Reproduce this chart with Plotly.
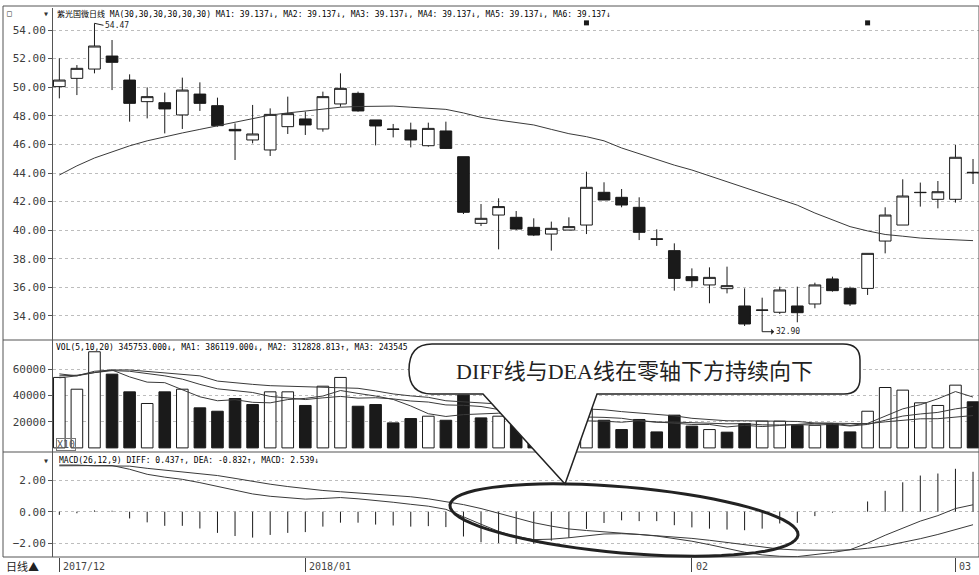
import math
import plotly.graph_objects as go

W, H = 979, 575


def fx(x):
    return x / W


def fy(y):
    return 1 - y / H


# ---------------- data ----------------
x_tick_idx = [0, 14, 36, 51]
x_tick_labels = ["2017/12", "2018/01", "02", "03"]

opens = [50.04, 50.62, 51.27, 52.18, 50.50, 48.99, 48.92, 48.06, 49.52, 48.71,
         47.05, 46.31, 45.61, 47.24, 47.78, 47.08, 48.83, 49.57, 47.71, 47.08,
         47.01, 45.91, 46.94, 45.14, 40.48, 41.06, 40.90, 40.20, 39.73, 40.01,
         40.36, 42.65, 42.30, 41.60, 39.40, 38.57, 36.75, 36.17, 35.91, 34.70,
         34.42, 34.26, 34.70, 34.84, 36.59, 35.93, 35.93, 39.24, 40.36, 42.65,
         42.16, 42.16, 44.05]
highs = [52.02, 51.55, 54.47, 53.30, 50.90, 49.99, 49.62, 50.67, 50.34, 49.27,
         47.47, 48.76, 48.52, 49.34, 48.29, 49.69, 50.97, 49.69, 47.71, 47.43,
         47.52, 47.52, 47.59, 45.14, 41.83, 42.23, 41.34, 40.83, 40.60, 40.90,
         44.09, 43.35, 42.88, 42.30, 40.06, 39.08, 37.33, 37.40, 37.45, 35.93,
         35.28, 36.05, 36.05, 36.33, 36.75, 36.05, 38.38, 41.60, 43.56, 43.33,
         43.44, 45.96, 44.98]
lows = [49.22, 49.45, 50.97, 49.80, 47.59, 47.82, 46.77, 47.08, 48.34, 47.24,
        44.91, 46.07, 45.19, 46.73, 46.66, 46.89, 48.64, 48.29, 45.93, 46.49,
        45.79, 45.84, 45.68, 41.13, 40.29, 38.66, 40.01, 39.59, 38.57, 40.01,
        39.73, 42.11, 41.60, 39.31, 38.90, 35.77, 36.00, 34.89, 35.58, 33.30,
        32.90, 34.14, 33.56, 34.54, 35.70, 34.70, 35.47, 38.38, 40.36, 41.65,
        41.53, 41.93, 43.23]
closes = [50.50, 51.32, 52.88, 51.74, 48.87, 49.34, 48.48, 49.80, 48.87, 47.31,
          46.95, 46.73, 48.10, 48.15, 47.36, 49.34, 49.92, 48.34, 47.29, 47.05,
          46.31, 47.12, 45.72, 41.25, 40.83, 41.65, 40.08, 39.66, 40.13, 40.25,
          43.00, 42.11, 41.76, 39.85, 39.36, 36.63, 36.47, 36.70, 36.12, 33.44,
          34.40, 35.82, 34.23, 36.17, 35.77, 34.84, 38.38, 41.06, 42.39, 42.63,
          42.69, 45.10, 44.02]
ma30 = [43.86, 44.50, 45.05, 45.50, 45.90, 46.25, 46.55, 46.80, 47.05, 47.29,
        47.55, 47.80, 48.05, 48.20, 48.35, 48.50, 48.60, 48.65, 48.69, 48.68,
        48.60, 48.55, 48.45, 48.20, 47.89, 47.70, 47.55, 47.36, 47.05, 46.75,
        46.54, 46.25, 45.75, 45.35, 44.95, 44.55, 44.21, 43.80, 43.40, 43.00,
        42.55, 42.15, 41.75, 41.20, 40.75, 40.25, 39.95, 39.70, 39.58, 39.45,
        39.38, 39.32, 39.27]
event_idx = [30, 46]
event_price = [54.5, 54.5]

volume = [53800, 44800, 73400, 56300, 42800, 33900, 42800, 44800, 30600, 28000,
          37700, 33100, 42800, 42800, 32400, 47100, 53800, 31800, 33100, 19100,
          22400, 24200, 21100, 40300, 22900, 24200, 22000, 18000, 16000, 17000,
          30000, 21100, 14000, 21700, 12200, 25000, 16600, 14000, 12000, 18600,
          20400, 20400, 17300, 17300, 18600, 12200, 28000, 46100, 44100, 34400,
          32400, 47900, 35200]
vol_ma5 = [56500, 55000, 58500, 59500, 54200, 50200, 49800, 44100, 39000, 36000,
           36800, 34800, 34400, 36900, 37800, 39600, 43800, 41600, 39600, 37000,
           32000, 26100, 24000, 25400, 26200, 26500, 26100, 25500, 20600, 19400,
           20600, 20400, 19600, 20800, 19800, 18800, 17900, 17900, 16000, 17200,
           16300, 17100, 17700, 18800, 18800, 17200, 18700, 24400, 29800, 33000,
           37500, 43000, 38800]
vol_ma10 = [55000, 55500, 57500, 59000, 58500, 57000, 55000, 52500, 48500, 45100,
            43500, 42300, 39300, 37900, 36900, 38200, 39300, 38000, 38300, 37400,
            35800, 35000, 32800, 32500, 31600, 29300, 26100, 24700, 23000, 22800,
            23600, 23300, 22600, 20700, 19600, 19700, 19200, 18800, 18400, 18500,
            17600, 17500, 17800, 17400, 18000, 16700, 17900, 21100, 24300, 25900,
            27100, 29800, 31600]
vol_ma20 = [53500, 55000, 57500, 59500, 59500, 58500, 57500, 56500, 55000, 51000,
            49500, 48500, 47500, 47000, 46500, 46000, 45800, 45500, 43500, 41200,
            39700, 38600, 36000, 35200, 34200, 33800, 32700, 31400, 30600, 30100,
            29700, 29100, 27700, 26600, 25600, 24500, 22600, 21700, 20700, 20700,
            20600, 20400, 20200, 19000, 18800, 18200, 18500, 19900, 21300, 22200,
            22300, 23700, 24700]

diff = [2.92, 2.92, 2.95, 2.94, 2.70, 2.38, 2.20, 2.06, 1.85, 1.60,
        1.35, 1.13, 0.98, 0.88, 0.80, 0.84, 0.90, 0.82, 0.72, 0.60,
        0.47, 0.35, 0.15, -0.35, -0.80, -1.25, -1.60, -1.78, -1.75, -1.66,
        -1.52, -1.42, -1.40, -1.45, -1.55, -1.70, -1.88, -2.10, -2.35, -2.58,
        -2.75, -2.84, -2.86, -2.75, -2.60, -2.42, -2.00, -1.50, -1.03, -0.60,
        -0.25, 0.20, 0.44]
dea = [2.97, 2.97, 2.92, 2.91, 2.90, 2.76, 2.65, 2.53, 2.42, 2.30,
       2.12, 1.93, 1.75, 1.60, 1.46, 1.35, 1.27, 1.20, 1.12, 1.04,
       0.95, 0.82, 0.64, 0.45, 0.20, -0.10, -0.42, -0.70, -0.92, -1.10,
       -1.20, -1.28, -1.35, -1.42, -1.50, -1.60, -1.70, -1.82, -1.97, -2.12,
       -2.27, -2.38, -2.44, -2.46, -2.46, -2.43, -2.33, -2.18, -1.97, -1.72,
       -1.45, -1.15, -0.83]
macd_hist = [-0.20, -0.10, 0.08, 0.06, -0.43, -0.68, -0.90, -0.90, -1.07, -1.35,
             -1.55, -1.65, -1.48, -1.35, -1.30, -0.95, -0.70, -0.70, -0.82, -0.88,
             -0.95, -0.92, -0.98, -1.58, -1.95, -2.00, -2.04, -2.04, -1.85, -1.66,
             -1.10, -0.72, -0.55, -0.60, -0.60, -0.86, -1.00, -1.08, -1.14, -1.18,
             -1.08, -0.75, -0.71, -0.28, -0.06, 0.02, 0.65, 1.33, 1.87, 2.30,
             2.43, 2.73, 2.54]

idx = list(range(len(closes)))

# ---------------- styles ----------------
MONO = "DejaVu Sans Mono, Noto Sans CJK SC, monospace"
INK = "#1a1a1a"
LINE = "#3a3a3a"
GRID = "#bdbdbd"

fig = go.Figure()

fig.add_trace(go.Candlestick(
    x=idx, open=opens, high=highs, low=lows, close=closes,
    increasing=dict(line=dict(color=INK, width=1), fillcolor="white"),
    decreasing=dict(line=dict(color=INK, width=1), fillcolor=INK),
    whiskerwidth=0, xaxis="x", yaxis="y", showlegend=False, hoverinfo="skip"))
fig.add_trace(go.Scatter(x=idx, y=ma30, mode="lines",
                         line=dict(color=LINE, width=1), xaxis="x", yaxis="y",
                         showlegend=False, hoverinfo="skip"))
fig.add_trace(go.Scatter(x=event_idx, y=event_price, mode="markers",
                         marker=dict(symbol="square", size=5, color=INK),
                         xaxis="x", yaxis="y", showlegend=False, hoverinfo="skip"))

vol_up = [True] + [closes[i] >= closes[i - 1] for i in range(1, len(closes))]
fig.add_trace(go.Bar(x=idx, y=volume, width=0.66,
                     marker=dict(color=["white" if u else INK for u in vol_up],
                                 line=dict(color=INK, width=1)),
                     xaxis="x2", yaxis="y2", showlegend=False, hoverinfo="skip"))
for ser in (vol_ma5, vol_ma10, vol_ma20):
    fig.add_trace(go.Scatter(x=idx, y=ser, mode="lines",
                             line=dict(color=LINE, width=1), xaxis="x2", yaxis="y2",
                             showlegend=False, hoverinfo="skip"))

hx, hy = [], []
for i, v in zip(idx, macd_hist):
    hx += [i, i, None]
    hy += [0, v, None]
fig.add_trace(go.Scatter(x=hx, y=hy, mode="lines", line=dict(color=INK, width=1),
                         xaxis="x3", yaxis="y3", showlegend=False, hoverinfo="skip"))
for ser in (diff, dea):
    fig.add_trace(go.Scatter(x=idx, y=ser, mode="lines",
                             line=dict(color=LINE, width=1), xaxis="x3", yaxis="y3",
                             showlegend=False, hoverinfo="skip"))

xdom = [fx(53), 1]
xrange = [-0.36, 52.34]
common_x = dict(domain=xdom, range=xrange, showgrid=False, zeroline=False,
                showticklabels=False, fixedrange=True)
ytick = dict(family=MONO, size=11, color="#3c3c3c")
common_y = dict(showgrid=True, gridcolor=GRID, griddash="dot", gridwidth=1,
                zeroline=False, showline=True, linecolor="#555", linewidth=1,
                ticks="outside", ticklen=4, tickcolor="#555", tickfont=ytick,
                fixedrange=True)

fig.update_layout(
    width=W, height=H, margin=dict(l=0, r=0, t=0, b=0),
    paper_bgcolor="white", plot_bgcolor="white",
    boxgap=0.05, boxgroupgap=0.3,
    xaxis=dict(**common_x, anchor="y", rangeslider=dict(visible=False)),
    xaxis2=dict(**common_x, anchor="y2", matches="x"),
    xaxis3=dict(domain=xdom, range=xrange, showgrid=False, zeroline=False,
                matches="x", anchor="y3", tickmode="array", tickvals=x_tick_idx,
                showticklabels=False, ticks="outside", ticklen=14, tickcolor="#444"),
    yaxis=dict(**common_y, domain=[fy(340), fy(8)], range=[32.32, 55.54],
               tickmode="array", tickvals=[34, 36, 38, 40, 42, 44, 46, 48, 50, 52, 54],
               tickformat=".2f", anchor="x"),
    yaxis2=dict(**common_y, domain=[fy(452), fy(340)], range=[-3130, 82370],
                tickmode="array", tickvals=[20000, 40000, 60000],
                ticktext=["20000", "40000", "60000"], anchor="x2"),
    yaxis3=dict(**common_y, domain=[fy(557), fy(452)], range=[-2.885, 3.80],
                tickmode="array", tickvals=[-2, 0, 2], tickformat=".2f", anchor="x3"),
)

shapes = []
# outer frame and panel separators
shapes.append(dict(type="rect", xref="paper", yref="paper", x0=fx(3), x1=fx(979),
                   y0=fy(557), y1=fy(6), line=dict(color="#555", width=1), layer="above"))
for yy in (340, 452):
    shapes.append(dict(type="line", xref="paper", yref="paper", x0=fx(3), x1=fx(979),
                       y0=fy(yy), y1=fy(yy), line=dict(color="#555", width=1.2),
                       layer="above"))

# speech bubble
bub = [("M", 432, 344), ("L", 843, 344), ("Q", 860, 344, 860, 360), ("L", 860, 378),
       ("Q", 860, 394, 844, 394), ("L", 597, 394), ("L", 565, 484), ("L", 483, 394),
       ("L", 432, 394), ("Q", 409, 394, 409, 370), ("Q", 409, 344, 432, 344)]
parts = []
for seg in bub:
    cmd = seg[0]
    pts = seg[1:]
    coords = []
    for k in range(0, len(pts), 2):
        coords.append(f"{fx(pts[k]):.5f},{fy(pts[k + 1]):.5f}")
    parts.append(cmd + " " + " ".join(coords))
shapes.append(dict(type="path", xref="paper", yref="paper",
                   path=" ".join(parts) + " Z", fillcolor="white",
                   line=dict(color="#222", width=1.5), layer="above"))

# tilted ellipse around the MACD lines
cx, cy, a, b = 624, 520, 174.7, 33.0
th = math.atan2(30, 348)
pts = []
for k in range(73):
    t = 2 * math.pi * k / 72
    ex = cx + a * math.cos(t) * math.cos(th) - b * math.sin(t) * math.sin(th)
    ey = cy + a * math.cos(t) * math.sin(th) + b * math.sin(t) * math.cos(th)
    pts.append(f"{fx(ex):.5f},{fy(ey):.5f}")
shapes.append(dict(type="path", xref="paper", yref="paper",
                   path="M " + " L ".join(pts) + " Z",
                   line=dict(color="#222", width=3), layer="above"))
fig.update_layout(shapes=shapes)

ann = []


def txt(x, y, s, size=8, fam=MONO, color="#111", xanchor="left", **kw):
    ann.append(dict(x=fx(x), y=fy(y), xref="paper", yref="paper", text=s,
                    showarrow=False, xanchor=xanchor, yanchor="middle",
                    font=dict(family=fam, size=size, color=color), **kw))


txt(55, 14, "紫光国微日线 MA(30,30,30,30,30,30) MA1: 39.137↓, MA2: 39.137↓, "
            "MA3: 39.137↓, MA4: 39.137↓, MA5: 39.137↓, MA6: 39.137↓", color="#000")
txt(54, 347, "VOL(5,10,20) 345753.000↓, MA1: 386119.000↓, MA2: 312828.813↑, MA3: 243545",
    color="#000")
txt(57, 460, "MACD(26,12,9) DIFF: 0.437↑, DEA: -0.832↑, MACD: 2.539↓", color="#000")
txt(5, 13, "□", size=8, color="#333")
txt(41, 14, "▾", size=10, color="#333")
txt(41, 460, "▾", size=10, color="#333")
txt(56, 444, "X10", size=10, color="#555", bordercolor="#777", borderwidth=1, borderpad=0)
txt(4, 566, "日线▲", size=11, fam="Noto Sans CJK SC", color="#222")
txt(634, 371, "DIFF线与DEA线在零轴下方持续向下", size=22,
    fam="Liberation Serif, Noto Sans CJK SC", color="#222", xanchor="center")

# date labels sitting just right of their tick marks
for i, lab in zip(x_tick_idx, x_tick_labels):
    ann.append(dict(x=i, y=fy(566), xref="x3", yref="paper", text=lab,
                    showarrow=False, xanchor="left", yanchor="middle", xshift=2,
                    font=dict(family=MONO, size=10, color="#444")))

ann.append(dict(x=2, y=highs[2], xref="x", yref="y", text="54.47", showarrow=True,
                ax=9, ay=2, xanchor="left", arrowhead=0, arrowwidth=1,
                arrowcolor="#222", font=dict(family=MONO, size=8, color="#222")))
ann.append(dict(x=40, y=lows[40], xref="x", yref="y", text="32.90", showarrow=True,
                ax=12, ay=0, xanchor="left", arrowhead=1, arrowsize=0.7, arrowwidth=1,
                arrowside="start", arrowcolor="#222",
                font=dict(family=MONO, size=8, color="#222")))
fig.update_layout(annotations=ann)

fig.write_html("out.html",
               config={"displayModeBar": False},
               post_script="document.body.style.margin='0px';"
                           "document.body.style.overflow='hidden';")
